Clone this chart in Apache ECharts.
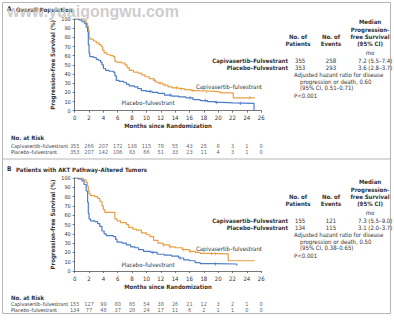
<!DOCTYPE html>
<html>
<head>
<meta charset="utf-8">
<script src="https://cdn.jsdelivr.net/npm/echarts@6/dist/echarts.min.js"></script>
<style>
  html, body { margin: 0; padding: 0; background: #ffffff; }
  #chart { width: 394px; height: 322px; }
</style>
</head>
<body>
<div id="chart"></div>
<script>
// Kaplan–Meier step points [month, % progression-free], panel A (overall population)
const capiA = [[0,100],[1.0,100],[1.3,98],[1.6,95],[1.8,92],[1.9,88],[2.0,80],[2.1,78],[2.6,76],[3.0,74],[3.4,72],[3.7,70],[3.9,66],[4.1,63],[4.5,61],[5.0,60],[5.4,59],[5.6,54],[5.8,53],[6.5,52],[7.0,50],[7.3,47],[7.6,44],[8.2,42],[8.8,41],[9.3,39],[9.8,37],[10.4,35],[11.0,33],[11.3,31],[11.7,30],[12.3,28],[13.0,26],[13.6,25],[14.5,24],[15.3,23],[16.2,22],[17.0,21.5],[18.3,21],[19.6,20.5],[20.3,19.5],[22.1,14],[25.1,14]];
const placA = [[0,100],[0.6,99],[1.0,97],[1.4,95],[1.6,91],[1.8,86],[1.9,72],[2.0,63],[2.1,59],[2.6,58],[3.0,56],[3.3,55],[3.6,53],[3.8,50],[4.0,46],[4.3,44],[4.8,43],[5.4,42],[5.6,38],[5.8,33],[6.2,32],[6.8,31],[7.2,29],[7.6,27],[8.3,26],[8.8,24],[9.3,22],[10.0,21],[10.8,20],[11.6,19],[12.5,17],[13.5,16],[14.5,15],[15.5,14],[16.5,12],[17.5,11],[18.5,10],[19.6,9],[20.5,8.5],[22.1,8],[25.0,8],[25.0,0]];
// Panel B (AKT pathway–altered tumors)
const capiB = [[0,100],[0.6,100],[1.2,98],[1.6,95],[1.8,91],[1.9,87],[2.0,83],[2.2,81],[2.8,80],[3.2,78],[3.5,75],[3.8,70],[4.0,66],[4.2,63],[5.4,63],[5.6,56],[5.9,54],[6.4,52],[7.2,50],[7.5,47],[8.1,45],[8.6,44],[9.3,41],[10.0,39],[10.5,37],[11.0,33],[11.6,30],[12.3,28],[13.2,26],[14.0,25],[15.0,23],[16.0,21],[16.8,20],[17.5,19],[18.5,18.5],[21.4,11],[25.1,11]];
const placB = [[0,100],[0.5,99],[1.0,97],[1.3,93],[1.6,86],[1.8,74],[1.9,62],[2.0,56],[2.2,54],[2.8,53],[3.2,51],[3.5,48],[3.8,43],[4.1,40],[4.4,38],[5.4,37],[5.7,34],[5.9,31],[6.6,30],[7.2,28],[7.8,26],[8.4,25],[8.9,23],[9.6,21],[10.6,20],[11.5,18],[12.5,17],[13.5,16],[14.5,14],[15.2,12],[16.0,11],[16.8,9],[17.5,8],[19.5,7.5],[22.6,6]];

// Censoring times (months)
const censCapiA = [11.2, 11.9, 12.6, 14.2, 14.9, 16.5, 18.4, 24.4];
const censPlacA = [10.5, 13.3, 16.1, 18.2, 19.8, 23.1];
const censCapiB = [12.4, 13.3, 15.1, 16.1, 19.1, 19.6];
const censPlacB = [10.9, 14.7, 19.6];

// Number at risk
const riskMonths = [0,2,4,6,8,10,12,14,16,18,20,22,24,26];
const riskCapiA = [355,266,207,172,138,115,78,55,43,25,8,3,1,0];
const riskPlacA = [353,207,142,106,83,66,51,33,23,11,4,3,1,0];
const riskCapiB = [155,127,99,80,65,54,38,26,21,12,3,2,1,0];
const riskPlacB = [134,77,48,37,28,24,17,11,6,2,1,1,0,0];

const rowCapi = 'Capivasertib–fulvestrant';
const rowPlac = 'Placebo–fulvestrant';

const ORANGE = '#E7A044';
const BLUE = '#4E7DC5';
const INK = '#333333';
const FONT = "'Liberation Sans Narrow', 'DejaVu Sans Condensed', 'Liberation Sans', sans-serif";

// value of a step curve at time t
function stepAt(curve, t) {
  let v = curve[0][1];
  for (const p of curve) { if (p[0] <= t) v = p[1]; }
  return v;
}

const chart = echarts.init(document.getElementById('chart'), null, { renderer: 'svg' });

function kmGrid(top, height) {
  return { left: 74.7, top: top, width: 186.5, height: height };
}

function xMain(gi) {
  return {
    gridIndex: gi, type: 'value', min: 0, max: 26, interval: 2,
    name: 'Months since Randomization', nameLocation: 'middle', nameGap: 12,
    nameTextStyle: { fontFamily: FONT, fontSize: 6, fontWeight: 'bold', color: INK },
    axisLine: { lineStyle: { color: '#555', width: 0.8 } },
    axisTick: { length: 2, lineStyle: { color: '#555', width: 0.8 } },
    axisLabel: { fontFamily: FONT, fontSize: 6, color: INK, margin: 4 },
    splitLine: { show: false }
  };
}
function yMain(gi) {
  return {
    gridIndex: gi, type: 'value', min: 0, max: 100, interval: 10,
    name: 'Progression-free Survival (%)', nameLocation: 'middle', nameGap: 19, nameRotate: 90,
    nameTextStyle: { fontFamily: FONT, fontSize: 6, fontWeight: 'bold', color: INK },
    axisLine: { show: true, lineStyle: { color: '#555', width: 0.8 } },
    axisTick: { show: true, length: 2, lineStyle: { color: '#555', width: 0.8 } },
    axisLabel: { fontFamily: FONT, fontSize: 5.5, color: INK, margin: 4 },
    splitLine: { show: false }
  };
}
function xRisk(gi) {
  return { gridIndex: gi, type: 'value', min: 0, max: 26, show: false };
}
function yRisk(gi) {
  return {
    gridIndex: gi, type: 'category', data: [rowCapi, rowPlac], inverse: true,
    axisLine: { show: false }, axisTick: { show: false }, splitLine: { show: false },
    axisLabel: { interval: 0, hideOverlap: false, fontFamily: FONT, fontSize: 5.2, color: INK, align: 'left', margin: 63.7 }
  };
}

function kmLine(data, color, gi) {
  return {
    type: 'line', xAxisIndex: gi, yAxisIndex: gi, data: data, step: 'end',
    showSymbol: false, symbol: 'none', silent: true,
    lineStyle: { color: color, width: 1.2 }
  };
}
function censor(times, curve, color, gi) {
  return {
    type: 'scatter', xAxisIndex: gi, yAxisIndex: gi, silent: true,
    data: times.map(t => [t, stepAt(curve, t)]),
    symbol: 'rect', symbolSize: [0.9, 3.5],
    itemStyle: { color: color }
  };
}
function riskRow(values, row, gi) {
  return {
    type: 'scatter', xAxisIndex: gi, yAxisIndex: gi, silent: true,
    symbolSize: 0,
    data: riskMonths.map((m, i) => [m, row, values[i]]),
    label: {
      show: true, position: 'inside', formatter: p => String(p.value[2]),
      fontFamily: FONT, fontSize: 5.6, color: INK
    }
  };
}

function txt(x, y, s, opt) {
  opt = opt || {};
  return {
    type: 'text', x: x, y: y, silent: true,
    style: {
      text: s, fill: opt.fill || INK, fontFamily: opt.family || FONT,
      fontSize: opt.size || 6, fontWeight: opt.bold ? 'bold' : 'normal',
      align: opt.align || 'left', verticalAlign: 'middle', opacity: opt.opacity == null ? 1 : opt.opacity
    },
    z: opt.z || 10
  };
}

// Summary table beside each plot
function summary(dy, capiN, capiE, capiMed, placN, placE, placMed, hr, ci) {
  return [
    txt(370, 21.7 + dy, 'Median', { bold: true, align: 'center' }),
    txt(370, 29 + dy, 'Progression-', { bold: true, align: 'center' }),
    txt(370, 36.3 + dy, 'free Survival', { bold: true, align: 'center' }),
    txt(370, 43.5 + dy, '(95% CI)', { bold: true, align: 'center' }),
    txt(298, 36.3 + dy, 'No. of', { bold: true, align: 'center' }),
    txt(298, 43.5 + dy, 'Patients', { bold: true, align: 'center' }),
    txt(331, 36.3 + dy, 'No. of', { bold: true, align: 'center' }),
    txt(331, 43.5 + dy, 'Events', { bold: true, align: 'center' }),
    txt(370, 52.3 + dy, 'mo', { align: 'center' }),
    txt(288, 60 + dy, 'Capivasertib–Fulvestrant', { bold: true, align: 'right' }),
    txt(288, 67 + dy, 'Placebo–Fulvestrant', { bold: true, align: 'right' }),
    txt(295, 60 + dy, capiN),
    txt(295, 67 + dy, placN),
    txt(331, 60 + dy, capiE, { align: 'center' }),
    txt(331, 67 + dy, placE, { align: 'center' }),
    txt(358, 60 + dy, capiMed),
    txt(358, 67 + dy, placMed),
    txt(294, 74.7 + dy, 'Adjusted hazard ratio for disease'),
    txt(300, 81.2 + dy, 'progression or death, ' + hr),
    txt(300, 87.7 + dy, '(95% CI, ' + ci + ')'),
    txt(294, 95.3 + dy, 'P<0.001')
  ];
}

const option = {
  animation: false,
  backgroundColor: '#ffffff',
  grid: [kmGrid(19, 91.7), kmGrid(178, 93), kmGrid(142.7, 12), kmGrid(301.3, 11.5)],
  xAxis: [xMain(0), xMain(1), xRisk(2), xRisk(3)],
  yAxis: [yMain(0), yMain(1), yRisk(2), yRisk(3)],
  series: [
    kmLine(capiA, ORANGE, 0), kmLine(placA, BLUE, 0),
    kmLine(capiB, ORANGE, 1), kmLine(placB, BLUE, 1),
    censor(censCapiA, capiA, ORANGE, 0), censor(censPlacA, placA, BLUE, 0),
    censor(censCapiB, capiB, ORANGE, 1), censor(censPlacB, placB, BLUE, 1),
    riskRow(riskCapiA, rowCapi, 2), riskRow(riskPlacA, rowPlac, 2),
    riskRow(riskCapiB, rowCapi, 3), riskRow(riskPlacB, rowPlac, 3)
  ],
  graphic: [
    // panel frame and divider
    { type: 'rect', shape: { x: 2.5, y: 2.5, width: 388, height: 311 }, style: { fill: 'none', stroke: '#b5b5b5', lineWidth: 1 }, silent: true },
    { type: 'line', shape: { x1: 2.5, y1: 159, x2: 390.5, y2: 159 }, style: { stroke: '#b5b5b5', lineWidth: 1 }, silent: true },
    // panel titles
    txt(7, 9, 'A', { bold: true, size: 6.5 }),
    txt(16, 9, 'Overall Population', { bold: true }),
    txt(7, 169, 'B', { bold: true, size: 6.5 }),
    txt(16, 169, 'Patients with AKT Pathway–Altered Tumors', { bold: true }),
    // site watermark
    txt(7, 11, 'www.yuaigongwu.com', { bold: true, size: 16, family: "'Liberation Sans', Arial, sans-serif", fill: '#c4c4c4', opacity: 0.85, z: 20 }),
    // curve labels
    txt(229, 86, 'Capivasertib–fulvestrant', { align: 'center' }),
    txt(148, 102.3, 'Placebo–fulvestrant', { align: 'center' }),
    txt(229, 248.3, 'Capivasertib–fulvestrant', { align: 'center' }),
    txt(148, 264, 'Placebo–fulvestrant', { align: 'center' }),
    // number-at-risk headings
    txt(11, 137.7, 'No. at Risk', { bold: true }),
    txt(11, 297.5, 'No. at Risk', { bold: true }),
    ...summary(0, '355', '258', '7.2 (5.5–7.4)', '353', '293', '3.6 (2.8–3.7)', '0.60', '0.51–0.71'),
    ...summary(160, '155', '121', '7.3 (5.5–9.0)', '134', '115', '3.1 (2.0–3.7)', '0.50', '0.38–0.65')
  ]
};

chart.setOption(option);
</script>
</body>
</html>
